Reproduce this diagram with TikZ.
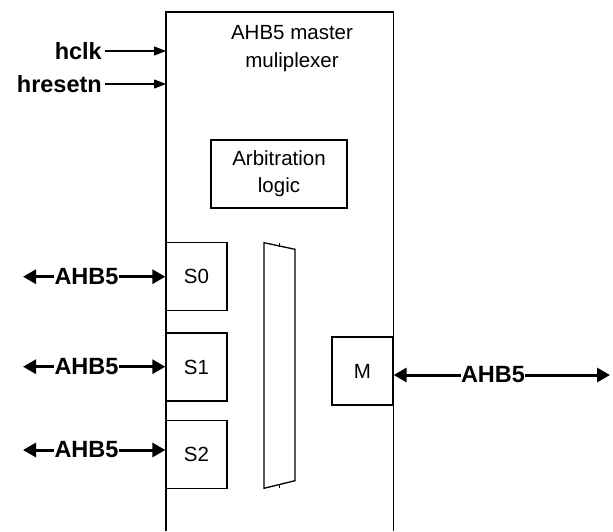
\documentclass[tikz,border=0pt]{standalone}
\usepackage{fontspec}
\setmainfont{Liberation Sans}
\usetikzlibrary{arrows.meta}
\begin{document}
\begin{tikzpicture}[x=1pt,y=-1pt,
  txt/.style={font=\fontsize{20.5}{24}\selectfont, inner sep=0pt},
  btxt/.style={font=\fontsize{23.5}{26}\selectfont\bfseries, inner sep=0pt},
  blk/.style={draw, line width=1.3pt, inner sep=0pt},
  thinarr/.style={line width=1.1pt, -{Triangle[length=12pt,width=9pt]}},
  busarr/.style={line width=3pt, -{Triangle[length=13pt,width=14pt]}}]
\useasboundingbox (0,0) rectangle (613,531);
% main block (open at the bottom)
\node[inner sep=0pt, minimum width=227pt, minimum height=519pt, anchor=north west] (main) at (166,12) {};
\draw[line width=1.6pt] (main.south west) -- (main.north west) -- (main.north east) -- (main.south east);
\node[txt, align=center] (title) at (292,49) {AHB5 master\\[4pt]muliplexer};
% arbitration
\node[blk, minimum width=136pt, minimum height=68pt, align=center, txt, draw] (arb) at (279,174) {Arbitration\\[3pt]logic};
% slave ports
\node[blk, txt, minimum width=61pt, minimum height=68pt] (s0) at (196.5,276.7) {S0};
\node[blk, txt, minimum width=61pt, minimum height=68pt] (s1) at (196.5,367) {S1};
\node[blk, txt, minimum width=61pt, minimum height=68pt] (s2) at (196.5,454.3) {S2};
% master port
\node[blk, txt, minimum width=61pt, minimum height=68pt] (m) at (362.5,371) {M};
% multiplexer
\coordinate (mux1) at (264,242.7);
\coordinate (mux2) at (295,249.3);
\coordinate (mux3) at (295,480.7);
\coordinate (mux4) at (264,488.3);
\draw[line width=1.3pt] (mux1) -- (mux2) -- (mux3) -- (mux4) -- cycle;
\coordinate (tk1) at (279.5,243); \coordinate (tk2) at (279.5,246.5);
\coordinate (tk3) at (279.5,484.5); \coordinate (tk4) at (279.5,488);
\draw[line width=0.8pt] (tk1) -- (tk2);
\draw[line width=0.8pt] (tk3) -- (tk4);
% clock and reset
\node[btxt, anchor=east] (hclk) at (102,51) {hclk};
\node[btxt, anchor=east] (hrst) at (102,84) {hresetn};
\draw[thinarr] ([xshift=3pt]hclk.east) -- (hclk.east -| main.west);
\draw[thinarr] ([xshift=3pt]hrst.east) -- (hrst.east -| main.west);
% AHB5 buses on slave side
\foreach \s/\y in {s0/276.7, s1/366.7, s2/450} {
  \node[btxt] (bus\s) at (86.5,\y) {AHB5};
  \coordinate (end\s) at (23,\y);
  \draw[busarr] (bus\s.west) -- (end\s);
  \draw[busarr] (bus\s.east) -- (\s.west |- bus\s.east);
}
% AHB5 bus on master side
\node[btxt] (busm) at (493,375) {AHB5};
\coordinate (endm) at (610,375);
\draw[busarr] (busm.west) -- (busm.west -| m.east);
\draw[busarr] (busm.east) -- (endm);
\end{tikzpicture}
\end{document}
